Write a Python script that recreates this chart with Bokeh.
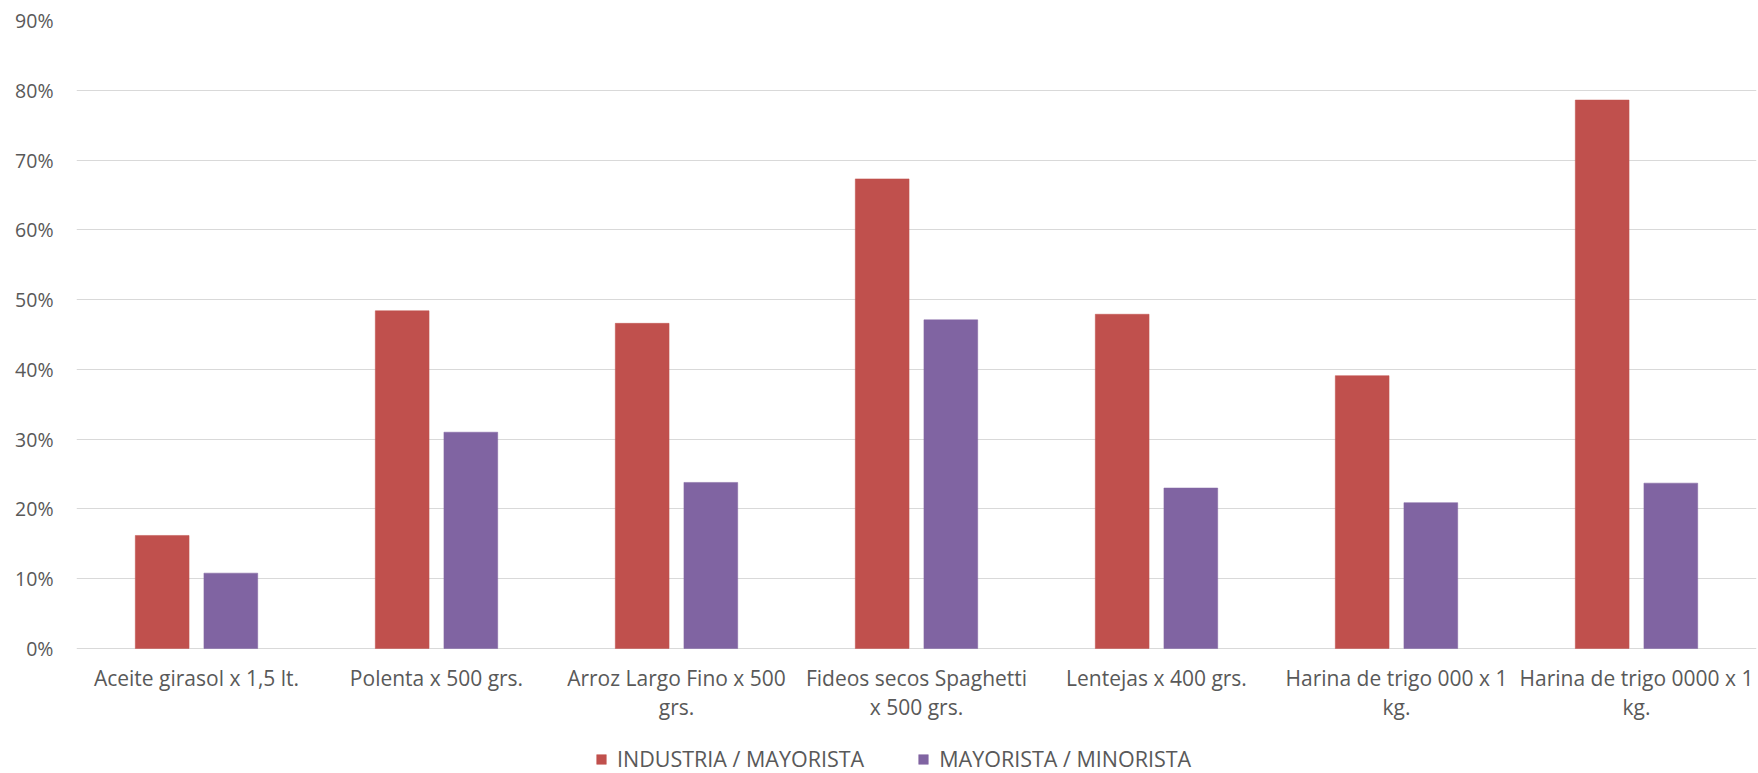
from bokeh.plotting import figure
from bokeh.models import ColumnDataSource, FactorRange, Legend, LegendItem, NumeralTickFormatter, FixedTicker
from bokeh.core.properties import value
from bokeh.transform import dodge
from bokeh.embed import file_html
from bokeh.resources import INLINE

categories = ["Aceite girasol x 1,5 lt.", "Polenta x 500 grs.", "Arroz Largo Fino x 500 grs.",
              "Fideos secos Spaghetti x 500 grs.", "Lentejas x 400 grs.",
              "Harina de trigo 000 x 1 kg.", "Harina de trigo 0000 x 1 kg."]
tick_labels = ["Aceite girasol x 1,5 lt.", "Polenta x 500 grs.", "Arroz Largo Fino x 500\ngrs.",
               "Fideos secos Spaghetti\nx 500 grs.", "Lentejas x 400 grs.",
               "Harina de trigo 000 x 1\nkg.", "Harina de trigo 0000 x 1\nkg."]
industria_mayorista = [0.162, 0.484, 0.466, 0.673, 0.479, 0.391, 0.786]
mayorista_minorista = [0.108, 0.310, 0.238, 0.471, 0.230, 0.209, 0.237]
series_names = ["INDUSTRIA / MAYORISTA", "MAYORISTA / MINORISTA"]
y_ticks = [0.0, 0.1, 0.2, 0.3, 0.4, 0.5, 0.6, 0.7, 0.8, 0.9]

RED = "#C0504D"
PURPLE = "#8064A2"
TXT = "#595959"
FONT = "Open Sans"

W, H = 1758, 773
LEFT, TOP, RIGHT = 76, 20, 2
BASE_Y = 648          # pixel row of the 0% line
Y_MAX = 0.9
plot_px = BASE_Y - TOP
below_px = H - BASE_Y
y_start = -Y_MAX * below_px / plot_px

src = ColumnDataSource(dict(cat=categories, label=tick_labels,
                            a=industria_mayorista, b=mayorista_minorista))

p = figure(x_range=FactorRange(factors=categories, range_padding=0), y_range=(y_start, Y_MAX),
           width=W, height=H, output_backend="svg", toolbar_location=None,
           x_axis_location=None,
           min_border_left=LEFT, min_border_right=RIGHT, min_border_top=TOP, min_border_bottom=0)

r1 = p.vbar(x=dodge("cat", -0.143, range=p.x_range), top="a", bottom=0, width=0.224, source=src,
            fill_color=RED, line_color=RED, line_width=0.5)
r2 = p.vbar(x=dodge("cat", 0.143, range=p.x_range), top="b", bottom=0, width=0.224, source=src,
            fill_color=PURPLE, line_color=PURPLE, line_width=0.5)

p.text(x="cat", y=0, text="label", source=src, text_align="center", text_baseline="top",
       y_offset=15, text_font=value(FONT), text_font_size=value("21px"), text_color=TXT,
       text_line_height=1.05)

p.outline_line_color = None
p.xgrid.grid_line_color = None
p.ygrid.grid_line_color = "#D9D9D9"
p.ygrid.grid_line_width = 1.2

p.yaxis.ticker = FixedTicker(ticks=y_ticks)
p.yaxis.formatter = NumeralTickFormatter(format="0%")
p.yaxis.axis_line_color = None
p.yaxis.major_tick_line_color = None
p.yaxis.minor_tick_line_color = None
p.yaxis.major_tick_out = 0
p.yaxis.major_tick_in = 0
p.yaxis.major_label_standoff = 23
p.yaxis.major_label_text_font = FONT
p.yaxis.major_label_text_font_size = "19.5px"
p.yaxis.major_label_text_color = TXT

legend = Legend(items=[LegendItem(label=series_names[0], renderers=[r1]),
                       LegendItem(label=series_names[1], renderers=[r2])],
                orientation="horizontal", location=(519, 0),
                glyph_width=12, glyph_height=12, label_standoff=10, spacing=53,
                label_text_font=FONT, label_text_font_size="21.5px", label_text_color=TXT,
                border_line_color=None, background_fill_alpha=0, padding=0, margin=0)
p.add_layout(legend, "center")

open("out.html", "w").write(file_html(p, INLINE))
